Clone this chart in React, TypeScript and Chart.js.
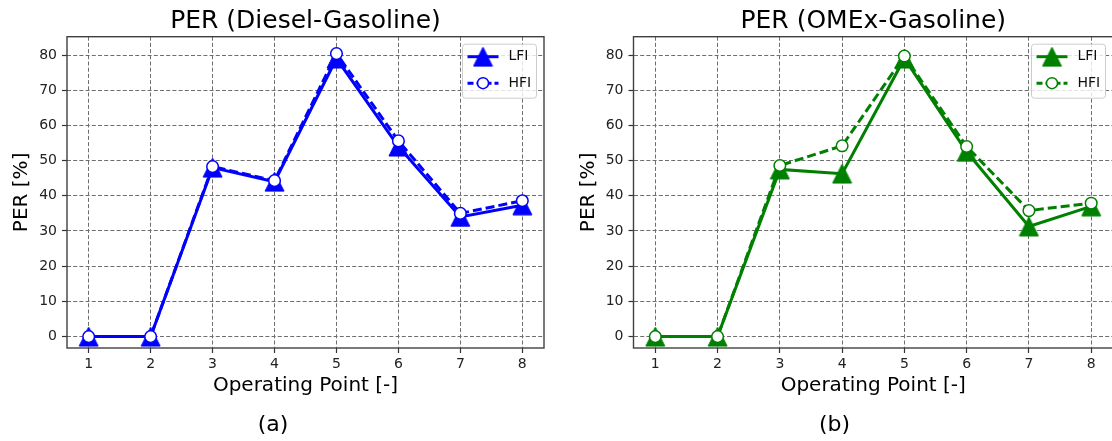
import React, { useEffect, useRef } from 'react';
import { Chart, registerables } from 'chart.js';

Chart.register(...registerables);

// ---------- data ----------
const opPoints = [1, 2, 3, 4, 5, 6, 7, 8];
const dieselLFI = [0, 0, 48, 44, 79, 54, 34, 37.3];
const dieselHFI = [0, 0, 48.3, 44.3, 80.4, 55.6, 35, 38.6];
const omexLFI = [0, 0, 47.5, 46.3, 79, 52.5, 31.3, 37];
const omexHFI = [0, 0, 48.6, 54.2, 79.7, 54, 35.8, 37.9];
const seriesLabels = ['LFI', 'HFI'];
const xTickValues = [1, 2, 3, 4, 5, 6, 7, 8];
const yTickValues = [0, 10, 20, 30, 40, 50, 60, 70, 80];
const chartTitles = ['PER (Diesel-Gasoline)', 'PER (OMEx-Gasoline)'];
const panelLabels = ['(a)', '(b)'];
const xAxisTitle = 'Operating Point [-]';
const yAxisTitle = 'PER [%]';

const FAMILY = "'DejaVu Sans', sans-serif";

function makeTriangle(color: string): HTMLCanvasElement {
  const c = document.createElement('canvas');
  c.width = 21;
  c.height = 21;
  const g = c.getContext('2d')!;
  g.beginPath();
  g.moveTo(10.5, 1);
  g.lineTo(20, 20);
  g.lineTo(1, 20);
  g.closePath();
  g.fillStyle = color;
  g.fill();
  g.strokeStyle = color;
  g.lineWidth = 1;
  g.stroke();
  return c;
}

const framePlugin = {
  id: 'frameBox',
  afterDraw(chart: any) {
    const { ctx, chartArea } = chart;
    ctx.save();
    ctx.strokeStyle = '#404040';
    ctx.lineWidth = 1.4;
    ctx.setLineDash([]);
    ctx.strokeRect(chartArea.left, chartArea.top, chartArea.right - chartArea.left, chartArea.bottom - chartArea.top);
    ctx.restore();
  },
};

const boxLegendPlugin = {
  id: 'boxLegend',
  afterDraw(chart: any, _args: any, opts: any) {
    const { ctx, chartArea } = chart;
    const w = 74;
    const h = 54;
    const x0 = chartArea.right - 7.5 - w;
    const y0 = chartArea.top + 7.5;
    const r = 3;
    ctx.save();
    ctx.beginPath();
    ctx.moveTo(x0 + r, y0);
    ctx.lineTo(x0 + w - r, y0);
    ctx.arcTo(x0 + w, y0, x0 + w, y0 + r, r);
    ctx.lineTo(x0 + w, y0 + h - r);
    ctx.arcTo(x0 + w, y0 + h, x0 + w - r, y0 + h, r);
    ctx.lineTo(x0 + r, y0 + h);
    ctx.arcTo(x0, y0 + h, x0, y0 + h - r, r);
    ctx.lineTo(x0, y0 + r);
    ctx.arcTo(x0, y0, x0 + r, y0, r);
    ctx.closePath();
    ctx.fillStyle = 'rgba(255,255,255,0.8)';
    ctx.fill();
    ctx.strokeStyle = '#cccccc';
    ctx.lineWidth = 1;
    ctx.stroke();

    const color = opts.color;
    const rows = [y0 + 12.5, y0 + 39];
    const lx1 = x0 + 5;
    const lx2 = x0 + 36;
    const mx = (lx1 + lx2) / 2;
    // LFI row
    ctx.strokeStyle = color;
    ctx.lineWidth = 3;
    ctx.beginPath();
    ctx.moveTo(lx1, rows[0]);
    ctx.lineTo(lx2, rows[0]);
    ctx.stroke();
    const tri = opts.tri as HTMLCanvasElement;
    ctx.drawImage(tri, mx - tri.width / 2, rows[0] - tri.height / 2);
    // HFI row
    ctx.setLineDash([6, 3]);
    ctx.beginPath();
    ctx.moveTo(lx1, rows[1]);
    ctx.lineTo(lx2, rows[1]);
    ctx.stroke();
    ctx.setLineDash([]);
    ctx.beginPath();
    ctx.arc(mx, rows[1], 5.5, 0, Math.PI * 2);
    ctx.fillStyle = '#ffffff';
    ctx.fill();
    ctx.lineWidth = 1.5;
    ctx.stroke();
    // text
    ctx.fillStyle = '#111';
    ctx.font = `14px ${FAMILY}`;
    ctx.textAlign = 'left';
    ctx.textBaseline = 'middle';
    ctx.fillText(opts.labels[0], x0 + 46, rows[0]);
    ctx.fillText(opts.labels[1], x0 + 46, rows[1]);
    ctx.restore();
  },
};

interface PanelProps {
  title: string;
  panel: string;
  lfi: number[];
  hfi: number[];
  color: string;
  yAxisWidth: number;
  yTitlePad: number;
  padRight: number;
  width: number;
}

function PerPanel(props: PanelProps) {
  const ref = useRef<HTMLCanvasElement | null>(null);
  useEffect(() => {
    if (!ref.current) return;
    const tri = makeTriangle(props.color);
    const tickFont = { family: FAMILY, size: 14 };
    const gridOpts = {
      color: '#6e6e6e',
      lineWidth: 1,
      drawTicks: true,
      tickLength: 5,
      tickColor: '#333',
      tickWidth: 1.2,
      tickBorderDash: [],
    };
    const chart = new Chart(ref.current, {
      type: 'line',
      data: {
        datasets: [
          {
            label: seriesLabels[0],
            data: opPoints.map((x, i) => ({ x, y: props.lfi[i] })),
            borderColor: props.color,
            backgroundColor: props.color,
            borderWidth: 3,
            pointStyle: tri as any,
            pointRadius: 9,
            order: 1,
            tension: 0,
            clip: false as any,
          },
          {
            label: seriesLabels[1],
            data: opPoints.map((x, i) => ({ x, y: props.hfi[i] })),
            borderColor: props.color,
            backgroundColor: '#ffffff',
            borderWidth: 3,
            borderDash: [9, 4],
            pointStyle: 'circle',
            pointRadius: 5.8,
            pointBorderWidth: 1.5,
            pointBackgroundColor: '#ffffff',
            pointBorderColor: props.color,
            order: 0,
            tension: 0,
            clip: false as any,
          },
        ],
      },
      options: {
        responsive: false,
        animation: false,
        events: [],
        layout: { padding: { left: 0, right: props.padRight, top: 0, bottom: 0 } },
        plugins: {
          legend: { display: false },
          tooltip: { enabled: false },
          title: {
            display: true,
            text: props.title,
            color: '#000',
            font: { family: FAMILY, size: 25, weight: 'normal' as any },
            padding: { top: 6, bottom: 0.7 },
            fullSize: false,
          },
          subtitle: {
            display: true,
            position: 'bottom',
            text: props.panel,
            color: '#000',
            font: { family: FAMILY, size: 22, weight: 'normal' as any },
            padding: { top: 13.8, bottom: 2.8 },
          },
          boxLegend: { color: props.color, tri, labels: seriesLabels },
        } as any,
        scales: {
          x: {
            type: 'linear',
            min: 0.65,
            max: 8.35,
            afterBuildTicks: (ax: any) => {
              ax.ticks = xTickValues.map((v) => ({ value: v }));
            },
            afterFit: (ax: any) => {
              ax.height = 50;
            },
            ticks: {
              font: tickFont,
              color: '#222',
              padding: 3,
              autoSkip: false,
              maxRotation: 0,
              callback: (v: any) => String(v),
            },
            grid: gridOpts,
            border: { display: false, dash: [4, 2.2] },
            title: {
              display: true,
              text: xAxisTitle,
              color: '#000',
              font: { family: FAMILY, size: 20 },
              padding: { top: 0, bottom: 0 },
            },
          },
          y: {
            type: 'linear',
            min: -3.24,
            max: 85.2,
            afterBuildTicks: (ax: any) => {
              ax.ticks = yTickValues.map((v) => ({ value: v }));
            },
            afterFit: (ax: any) => {
              ax.width = props.yAxisWidth;
            },
            ticks: {
              font: tickFont,
              color: '#222',
              padding: 5,
              autoSkip: false,
              callback: (v: any) => String(v),
            },
            grid: gridOpts,
            border: { display: false, dash: [4, 2.2] },
            title: {
              display: true,
              text: yAxisTitle,
              color: '#000',
              font: { family: FAMILY, size: 20 },
              padding: { top: props.yTitlePad, bottom: 0 },
            },
          },
        },
      } as any,
      plugins: [framePlugin, boxLegendPlugin],
    });
    return () => chart.destroy();
  }, []);
  return <canvas ref={ref} width={props.width} height={441} style={{ display: 'block', width: props.width, height: 441 }} />;
}

export default function App() {
  return (
    <div
      style={{
        position: 'absolute',
        left: 0,
        top: 0,
        width: 1112,
        height: 441,
        overflow: 'hidden',
        background: '#ffffff',
      }}
    >
      <div style={{ position: 'absolute', left: 0, top: 0 }}>
        <PerPanel
          title={chartTitles[0]}
          panel={panelLabels[0]}
          lfi={dieselLFI}
          hfi={dieselHFI}
          color="#0000ff"
          yAxisWidth={67}
          yTitlePad={10}
          padRight={10}
          width={556}
        />
      </div>
      <div style={{ position: 'absolute', left: 556, top: 0 }}>
        <PerPanel
          title={chartTitles[1]}
          panel={panelLabels[1]}
          lfi={omexLFI}
          hfi={omexHFI}
          color="#008000"
          yAxisWidth={77.5}
          yTitlePad={20.7}
          padRight={13}
          width={570}
        />
      </div>
    </div>
  );
}
